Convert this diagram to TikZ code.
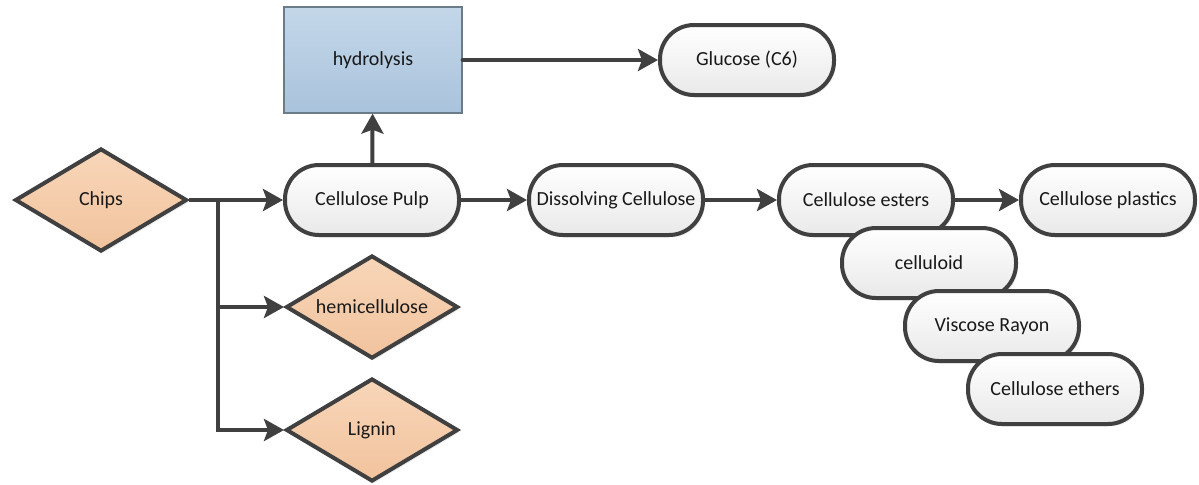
\documentclass[tikz,border=0pt]{standalone}
\usepackage{fontspec}
\setmainfont{Carlito}
\usepackage{xcolor}
\usetikzlibrary{arrows.meta,shapes.geometric,shadows}

\definecolor{edge}{HTML}{404040}
\definecolor{pillbot}{HTML}{E9E9E9}
\definecolor{peachtop}{HTML}{F8D6B9}
\definecolor{peachbot}{HTML}{F1C39D}
\definecolor{bluetop}{HTML}{C4D7E9}
\definecolor{bluebot}{HTML}{A9C3DC}
\definecolor{boxline}{HTML}{6A7B8C}

\begin{document}
\begin{tikzpicture}[>={Stealth[length=10pt,width=11pt,inset=2pt]}, x=0.5pt, y=-0.5pt,
    font=\fontsize{10}{12}\selectfont, text=black!90,
    pill/.style={draw=edge, line width=2pt, rounded corners=17pt, top color=white, bottom color=pillbot,
        minimum width=87pt, minimum height=35pt, inner sep=0pt,
        drop shadow={shadow xshift=1pt, shadow yshift=-1.2pt, opacity=0.15}},
    chip/.style={diamond, draw=edge, line width=2pt, aspect=1.7, top color=peachtop, bottom color=peachbot,
        minimum width=86pt, minimum height=51.5pt, inner sep=0pt,
        drop shadow={shadow xshift=1pt, shadow yshift=-1.2pt, opacity=0.15}},
    proc/.style={rectangle, draw=boxline, line width=0.6pt, top color=bluetop, bottom color=bluebot,
        minimum width=89pt, minimum height=53pt},
    link/.style={->, draw=edge, line width=2pt}]
        \useasboundingbox (0,0) rectangle (1199,484);

        % Source and split products
        \node[chip] (chips) at (101,200) {Chips};
        \node[chip] (hemi) at (372,307) {hemicellulose};
        \node[chip] (lignin) at (372,430) {Lignin};
        \coordinate (split) at (218,200);

        % Main line
        \node[pill] (pulp) at (372,200) {Cellulose Pulp};
        \node[pill] (dissolving) at (616,200) {Dissolving Cellulose};
        \node[pill] (esters) at (866,200) {Cellulose esters};
        \node[pill] (plastics) at (1108,200) {Cellulose plastics};

        % Hydrolysis branch
        \node[proc] (hydro) at (373,60) {hydrolysis};
        \node[pill] (glucose) at (747,60) {Glucose (C6)};

        % Stacked products
        \node[pill] (celluloid) at (929,263) {celluloid};
        \node[pill] (rayon) at (992,326) {Viscose Rayon};
        \node[pill] (ethers) at (1055,389) {Cellulose ethers};

        % Connectors
        \draw[link] (chips.east) -- (pulp.west);
        \draw[link] (split) |- (hemi.west);
        \draw[link] (split) |- (lignin.west);
        \draw[link] (pulp) -- (hydro);
        \draw[link, line cap=round] (hydro) -- (glucose);
        \draw[link] (pulp) -- (dissolving);
        \draw[link] (dissolving) -- (esters);
        \draw[link] (esters) -- (plastics);
    \end{tikzpicture}
\end{document}
